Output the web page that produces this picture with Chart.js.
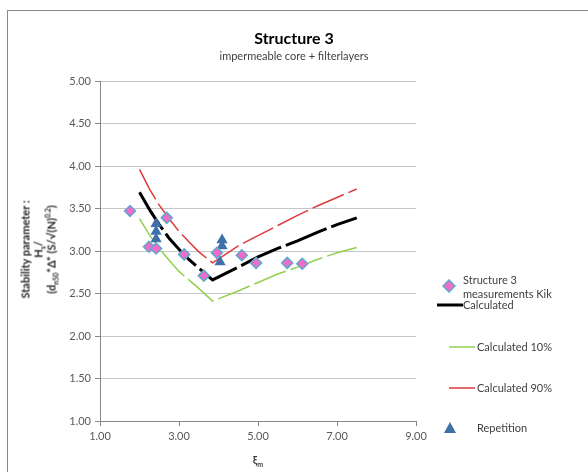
<!DOCTYPE html>
<html><head><meta charset="utf-8">
<script src="https://cdn.jsdelivr.net/npm/chart.js@4/dist/chart.umd.min.js"></script>
<style>
html,body{margin:0;padding:0;background:#fff;}
#wrap{position:relative;width:588px;height:472px;overflow:hidden;font-family:Lato,'Liberation Sans',sans-serif;}
#frame{position:absolute;left:7px;top:10px;width:640px;height:520px;border:1px solid #8a8a8a;box-sizing:border-box;}
#c{position:absolute;left:0;top:0;}
#title{position:absolute;left:0;top:28px;width:588px;text-align:center;font-size:16px;line-height:20px;font-weight:bold;color:#000;}
#subtitle{position:absolute;left:0;top:49px;width:588px;text-align:center;font-size:11px;line-height:14px;color:#404040;}
#ytitle{position:absolute;left:-62px;top:230px;width:200px;line-height:13px;font-size:11px;font-weight:bold;color:#262626;text-align:center;transform:rotate(-90deg);white-space:nowrap;}
#xtitle{position:absolute;left:208px;top:453px;width:100px;text-align:center;font-size:11px;font-weight:bold;color:#404040;}
sub,sup{font-size:7px;line-height:0;}
.lg{position:absolute;font-size:11px;color:#404040;line-height:14px;white-space:nowrap;}
.mk{position:absolute;}
</style></head>
<body>
<div id="wrap">
<div id="frame"></div>
<canvas id="c" width="588" height="472"></canvas>
<div id="title">Structure 3</div>
<div id="subtitle">impermeable core + filterlayers</div>
<div id="ytitle">Stability parameter :<br>H<sub>s</sub>/<br>(d<sub>n50</sub>*Δ* (S/√(N)<sup>0.2</sup>)</div>
<div id="xtitle">ξ<sub>m</sub></div>

<svg class="mk" style="left:442px;top:279px" width="14" height="14"><polygon points="7,1 13,7 7,13 1,7" fill="#f06cc8" stroke="#5fa8cc" stroke-width="1.5"/></svg>
<div class="lg" style="left:463px;top:273px">Structure 3<br>measurements Kik</div>

<svg class="mk" style="left:437px;top:300px" width="26" height="10"><line x1="0" y1="5" x2="26" y2="5" stroke="#000" stroke-width="3"/></svg>
<div class="lg" style="left:463px;top:298px">Calculated</div>

<svg class="mk" style="left:449px;top:342px" width="26" height="10"><line x1="0" y1="5" x2="26" y2="5" stroke="#92d050" stroke-width="1.5"/></svg>
<div class="lg" style="left:477px;top:340px">Calculated 10%</div>

<svg class="mk" style="left:449px;top:383px" width="26" height="10"><line x1="0" y1="5" x2="26" y2="5" stroke="#dd3a3a" stroke-width="1.5"/></svg>
<div class="lg" style="left:477px;top:381px">Calculated 90%</div>

<svg class="mk" style="left:443px;top:421px" width="14" height="14"><polygon points="7,1 13,12 1,12" fill="#4070aa"/></svg>
<div class="lg" style="left:477px;top:421px">Repetition</div>
</div>
<script>
// Structure 3 measurements Kik
const measX = [1.76, 2.24, 2.42, 2.69, 3.13, 3.63, 3.96, 4.59, 4.95, 5.74, 6.12];
const measY = [3.47, 3.05, 3.03, 3.39, 2.96, 2.71, 2.98, 2.95, 2.86, 2.86, 2.85];
// Repetition
const repX = [2.42, 2.42, 2.42, 4.09, 4.09, 4.04];
const repY = [3.32, 3.23, 3.14, 3.13, 3.06, 2.87];
// Calculated curves
const calcX = [2.0, 2.25, 2.5, 2.75, 3.0, 3.25, 3.5, 3.85, 4.5, 5.0, 5.5, 6.0, 6.5, 7.0, 7.5];
const calcY = [3.69, 3.49, 3.31, 3.15, 3.02, 2.90, 2.80, 2.66, 2.81, 2.93, 3.03, 3.12, 3.22, 3.31, 3.39];
const calc10Y = [3.38, 3.19, 3.03, 2.89, 2.76, 2.66, 2.56, 2.41, 2.53, 2.63, 2.73, 2.81, 2.90, 2.98, 3.04];
const calc90Y = [3.96, 3.73, 3.54, 3.38, 3.23, 3.11, 2.99, 2.86, 3.06, 3.18, 3.30, 3.42, 3.53, 3.63, 3.73];
const xTicks = [1, 3, 5, 7, 9];
const yTicks = [1, 1.5, 2, 2.5, 3, 3.5, 4, 4.5, 5];

const pts = (xs, ys) => xs.map((x, i) => ({x: x, y: ys[i]}));
const tickFont = {family: 'Lato', size: 11};

new Chart(document.getElementById('c'), {
  type: 'scatter',
  data: {
    datasets: [
      {label: 'Structure 3 measurements Kik', data: pts(measX, measY), pointStyle: 'rectRot', pointRadius: 5.5,
       backgroundColor: '#f06cc8', borderColor: '#5fa8cc', borderWidth: 1.5, order: 1},
      {label: 'Calculated', data: pts(calcX, calcY), showLine: true, pointRadius: 0, borderColor: '#000',
       borderWidth: 3, borderDash: [44, 5], tension: 0, order: 3},
      {label: 'Calculated 10%', data: pts(calcX, calc10Y), showLine: true, pointRadius: 0, borderColor: '#92d050',
       borderWidth: 1.5, borderDash: [34, 5], order: 4},
      {label: 'Calculated 90%', data: pts(calcX, calc90Y), showLine: true, pointRadius: 0, borderColor: '#dd3a3a',
       borderWidth: 1.5, borderDash: [34, 5], order: 5},
      {label: 'Repetition', data: pts(repX, repY), pointStyle: 'triangle', pointRadius: 6.5,
       backgroundColor: '#4070aa', borderColor: '#4070aa', borderWidth: 0, order: 2}
    ]
  },
  options: {
    responsive: false, animation: false, devicePixelRatio: 1,
    layout: {padding: {left: 0, right: 172, top: 81, bottom: 0}},
    plugins: {legend: {display: false}, tooltip: {enabled: false}},
    scales: {
      x: {type: 'linear', min: 1, max: 9,
          afterBuildTicks: s => { s.ticks = xTicks.map(v => ({value: v})); },
          ticks: {callback: v => v.toFixed(2), font: tickFont, color: '#595959', padding: 4, maxRotation: 0},
          grid: {drawOnChartArea: false, tickLength: 5, tickColor: '#868686'},
          border: {color: '#868686'},
          afterFit: s => { s.height = 51; }},
      y: {type: 'linear', min: 1, max: 5,
          afterBuildTicks: s => { s.ticks = yTicks.map(v => ({value: v})); },
          ticks: {callback: v => v.toFixed(2), font: tickFont, color: '#595959', padding: 4},
          grid: {color: '#c6c6c6', tickLength: 5, tickColor: '#868686'},
          border: {color: '#868686'},
          afterFit: s => { s.width = 100; }}
    }
  }
});
</script>
</body></html>
